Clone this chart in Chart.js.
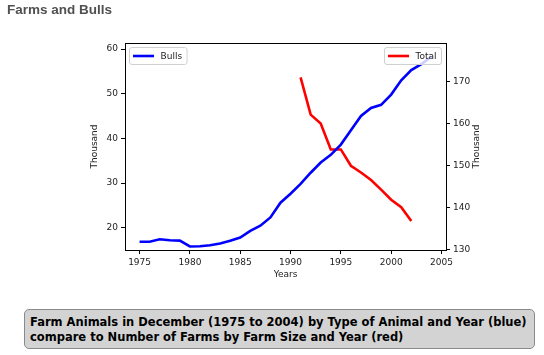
<!DOCTYPE html>
<html>
<head>
<meta charset="utf-8">
<script src="https://cdn.jsdelivr.net/npm/chart.js@4/dist/chart.umd.min.js"></script>
<style>
html,body{margin:0;padding:0;background:#fff;width:544px;height:355px;overflow:hidden;}
#wrap{position:absolute;left:0;top:0;width:544px;height:355px;}
#title{position:absolute;left:7px;top:2px;font:bold 13.5px "Liberation Sans",Arial,sans-serif;color:#505050;white-space:nowrap;}
#caption{position:absolute;left:24px;top:309px;width:498px;height:33px;padding:5px 6px 0 5px;background:#d3d3d3;border:1px solid #8a8a8a;border-radius:5px;font:bold 11.5px "DejaVu Sans",sans-serif;line-height:14.5px;color:#000;white-space:nowrap;}
</style>
</head>
<body>
<div id="wrap"><canvas id="c" width="544" height="355"></canvas></div>
<div id="title">Farms and Bulls</div>
<div id="caption">Farm Animals in December (1975 to 2004) by Type of Animal and Year (blue)<br>compare to Number of Farms by Farm Size and Year (red)</div>
<script>
// ---- data ----
const bullYears = [1975,1976,1977,1978,1979,1980,1981,1982,1983,1984,1985,1986,1987,1988,1989,1990,1991,1992,1993,1994,1995,1996,1997,1998,1999,2000,2001,2002,2003,2004];
const bulls = [16.86,16.86,17.4,17.2,17.1,15.8,15.85,16.05,16.45,17.05,17.8,19.3,20.45,22.3,25.6,27.6,29.8,32.3,34.6,36.3,38.6,41.8,45.0,46.8,47.5,49.8,53.0,55.3,56.6,58.3];
const farmYears = [1991,1992,1993,1994,1995,1996,1997,1998,1999,2000,2001,2002];
const totalFarms = [171.0,162.1,160.0,153.8,153.8,149.9,148.3,146.5,144.2,141.8,140.0,136.7];
const xTicks = [1975,1980,1985,1990,1995,2000,2005];
const leftTicks = [20,30,40,50,60];
const rightTicks = [130,140,150,160,170];
const seriesNames = ['Bulls','Total'];
const axisTitles = {x:'Years', left:'Thousand', right:'Thousand'};

const tickFont = {family:'"DejaVu Sans"', size:9};
const ink = '#222';

function pts(xs, ys){ return xs.map((x,i)=>({x:x,y:ys[i]})); }
function setTicks(arr){ return function(scale){ scale.ticks = arr.map(v=>({value:v})); }; }

const frameLegend = {
  id:'frameLegend',
  afterDatasetsDraw(chart){
    const ctx = chart.ctx, a = chart.chartArea;
    ctx.save();
    // top frame line
    ctx.strokeStyle = '#000'; ctx.lineWidth = 1;
    ctx.beginPath(); ctx.moveTo(a.left, Math.round(a.top)+0.5); ctx.lineTo(a.right, Math.round(a.top)+0.5); ctx.stroke();
    // right axis title, reading bottom-to-top like the left one
    const r = chart.scales.y2;
    ctx.save();
    ctx.font = '9px "DejaVu Sans"'; ctx.fillStyle = ink;
    ctx.translate(r.right - 6, (a.top + a.bottom)/2);
    ctx.rotate(-Math.PI/2);
    ctx.textAlign = 'center'; ctx.textBaseline = 'middle';
    ctx.fillText(axisTitles.right, 0, 0);
    ctx.restore();
    // legends
    ctx.font = '9px "DejaVu Sans"';
    chart.data.datasets.forEach((ds, i) => {
      const tw = ctx.measureText(ds.label).width;
      const w = 3 + 21 + 7 + tw + 5, h = 17;
      const x = i === 0 ? a.left + 4.5 : a.right - 4.5 - w;
      const y = a.top + 4.5;
      ctx.globalAlpha = 0.8;
      ctx.fillStyle = '#fff';
      ctx.beginPath();
      ctx.roundRect(x, y, w, h, 2.5);
      ctx.fill();
      ctx.globalAlpha = 1;
      ctx.strokeStyle = '#d0d0d0'; ctx.lineWidth = 1;
      ctx.stroke();
      ctx.strokeStyle = ds.borderColor; ctx.lineWidth = 2.6;
      ctx.beginPath(); ctx.moveTo(x+3.5, y+h/2); ctx.lineTo(x+24.5, y+h/2); ctx.stroke();
      ctx.fillStyle = ink; ctx.textBaseline = 'middle'; ctx.textAlign = 'left';
      ctx.fillText(ds.label, x+31, y+h/2+0.5);
    });
    ctx.restore();
  }
};

new Chart(document.getElementById('c'), {
  type:'line',
  data:{
    datasets:[
      {label:seriesNames[0], data:pts(bullYears,bulls), yAxisID:'y', borderColor:'#0000ff', backgroundColor:'#0000ff', borderWidth:2.6, pointRadius:0, tension:0, fill:false},
      {label:seriesNames[1], data:pts(farmYears,totalFarms), yAxisID:'y2', borderColor:'#ff0000', backgroundColor:'#ff0000', borderWidth:2.6, pointRadius:0, tension:0, fill:false}
    ]
  },
  options:{
    responsive:false, animation:false, devicePixelRatio:1,
    layout:{padding:{left:89, right:61, top:43, bottom:75}},
    plugins:{legend:{display:false}, tooltip:{enabled:false}, title:{display:false}},
    scales:{
      x:{type:'linear', position:'bottom', min:1973.55, max:2005.45,
         afterBuildTicks:setTicks(xTicks),
         afterFit(s){ s.height = 30; },
         grid:{drawOnChartArea:false, drawTicks:true, tickLength:4, color:'#000'},
         border:{display:true, color:'#000', width:1},
         ticks:{font:tickFont, color:ink, padding:3, maxRotation:0, autoSkip:false, callback:v=>String(v)},
         title:{display:true, text:axisTitles.x, font:tickFont, color:ink, padding:0}},
      y:{type:'linear', position:'left', min:15.0, max:61.35,
         afterBuildTicks:setTicks(leftTicks),
         afterFit(s){ s.width = 36; },
         grid:{drawOnChartArea:false, drawTicks:true, tickLength:4, color:'#000'},
         border:{display:true, color:'#000', width:1},
         ticks:{font:tickFont, color:ink, padding:3, autoSkip:false},
         title:{display:true, text:axisTitles.left, font:tickFont, color:ink, padding:0}},
      y2:{type:'linear', position:'right', min:129.8, max:179.2,
         afterBuildTicks:setTicks(rightTicks),
         afterFit(s){ s.width = 37; },
         grid:{drawOnChartArea:false, drawTicks:true, tickLength:4, color:'#000'},
         border:{display:true, color:'#000', width:1},
         ticks:{font:tickFont, color:ink, padding:3, autoSkip:false},
         title:{display:false, text:axisTitles.right}}
    }
  },
  plugins:[frameLegend]
});
</script>
</body>
</html>
